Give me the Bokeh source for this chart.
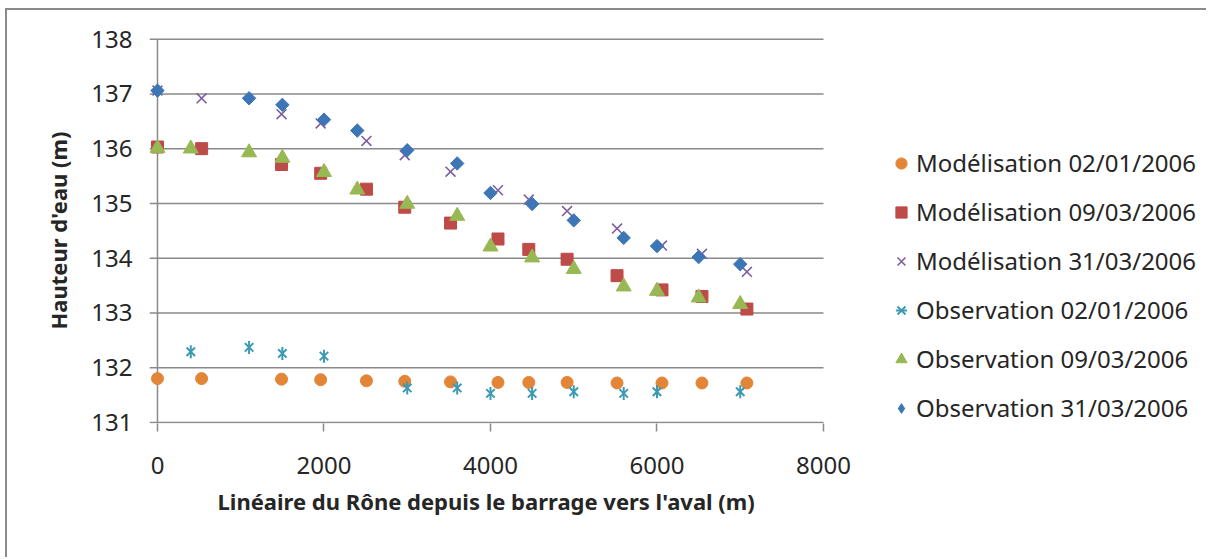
from bokeh.plotting import figure
from bokeh.models import Range1d, FixedTicker, Legend, LegendItem, Title
from bokeh.embed import file_html
from bokeh.resources import INLINE
import math

# ---- data ----
mod_x = [0, 530, 1490, 1960, 2510, 2970, 3520, 4090, 4460, 4920, 5520, 6060, 6540, 7080]
mod_0201 = [131.80, 131.80, 131.79, 131.78, 131.76, 131.75, 131.74, 131.73, 131.73, 131.73, 131.72, 131.72, 131.72, 131.72]
mod_0903 = [136.03, 136.00, 135.71, 135.55, 135.26, 134.93, 134.64, 134.35, 134.16, 133.98, 133.68, 133.42, 133.30, 133.07]
mod_3103 = [137.06, 136.92, 136.63, 136.46, 136.14, 135.88, 135.58, 135.24, 135.07, 134.86, 134.54, 134.23, 134.08, 133.75]

obs_0201_x = [400, 1100, 1500, 2000, 3000, 3600, 4000, 4500, 5000, 5600, 6000, 7000]
obs_0201 = [132.29, 132.37, 132.26, 132.21, 131.63, 131.63, 131.53, 131.53, 131.56, 131.53, 131.56, 131.56]

obs_0903_x = [0, 400, 1100, 1500, 2000, 2400, 3000, 3600, 4000, 4500, 5000, 5600, 6000, 6500, 7000]
obs_0903 = [136.01, 136.00, 135.93, 135.83, 135.57, 135.25, 134.99, 134.77, 134.21, 134.01, 133.80, 133.48, 133.40, 133.28, 133.16]

obs_3103_x = [0, 1100, 1500, 2000, 2400, 3000, 3600, 4000, 4500, 5000, 5600, 6000, 6500, 7000]
obs_3103 = [137.06, 136.92, 136.80, 136.53, 136.33, 135.97, 135.73, 135.19, 134.99, 134.69, 134.37, 134.22, 134.02, 133.89]

labels = ["Modélisation 02/01/2006", "Modélisation 09/03/2006", "Modélisation 31/03/2006",
          "Observation 02/01/2006", "Observation 09/03/2006", "Observation 31/03/2006"]
x_ticks = [0, 2000, 4000, 6000, 8000]
y_ticks = [131, 132, 133, 134, 135, 136, 137, 138]
x_title = "Linéaire du Rône depuis le barrage vers l'aval (m)"
y_title = "Hauteur d'eau (m)"

GRAY = "#8a8a8a"
TXT = "#262626"
FONT = "Noto Sans"

# ---- layout ----
W, H = 1201, 549
LEFT, TOP, BOTTOM = 142, 27, 136
PX_PER_M = 666 / 8000.0               # horizontal scale of the plot area
X0 = -96                               # frame starts 8 px left of x = 0 (tick length)
X1 = X0 + (W - LEFT) / PX_PER_M        # frame runs to the right edge (legend lives there)

p = figure(width=W, height=H, x_range=Range1d(X0, X1), y_range=Range1d(130.98, 138.03),
           output_backend="svg", toolbar_location=None,
           min_border_left=LEFT, min_border_right=0, min_border_top=TOP, min_border_bottom=BOTTOM)
# chart-area border (left and top edges are the only ones inside the window)
p.styles = {"margin-left": "7px", "margin-top": "10px",
            "box-shadow": f"-2px -2px 0px 0px {GRAY}"}
p.outline_line_color = None
p.background_fill_color = "white"
p.border_fill_color = "white"
p.xgrid.visible = False
p.ygrid.visible = False

# axes: labels/ticks from Bokeh axes, axis lines drawn as segments limited to the plot area
p.xaxis.ticker = FixedTicker(ticks=x_ticks)
p.yaxis.ticker = FixedTicker(ticks=y_ticks)
for ax in (p.xaxis[0], p.yaxis[0]):
    ax.axis_line_color = None
    ax.major_tick_line_color = GRAY
    ax.major_tick_line_width = 1.5
    ax.major_tick_in = 0
    ax.major_tick_out = 8
    ax.minor_tick_line_color = None
    ax.major_label_text_font = FONT
    ax.major_label_text_font_size = "24px"
    ax.major_label_text_color = TXT
    ax.axis_label_text_font = FONT
    ax.axis_label_text_font_size = "22px"
    ax.axis_label_text_font_style = "bold"
    ax.axis_label_text_color = TXT
p.yaxis.major_tick_line_color = None
p.yaxis.major_tick_out = 0
p.yaxis.major_label_standoff = 17
p.xaxis.major_label_standoff = 25
p.yaxis.axis_label = y_title
p.yaxis.axis_label_standoff = 15

p.add_layout(Title(text=x_title, align="left", offset=68, standoff=15,
                   text_font=FONT, text_font_size="22px", text_font_style="bold",
                   text_color=TXT), "below")

# horizontal grid lines (they also form the outside y ticks), x axis line and y axis line
p.segment(x0=[X0] * len(y_ticks), x1=[x_ticks[-1]] * len(y_ticks), y0=y_ticks, y1=y_ticks,
          line_color=GRAY, line_width=1.5)
p.segment(x0=[0], x1=[0], y0=[y_ticks[0]], y1=[y_ticks[-1]], line_color=GRAY, line_width=1.5)

# series
r1 = p.scatter(mod_x, mod_0201, marker="circle", size=12, fill_color="#E38537", line_color="#E38537")
r2 = p.scatter(mod_x, mod_0903, marker="square", size=12, fill_color="#BE4B48", line_color="#BE4B48")
r3 = p.scatter(mod_x, mod_3103, marker="x", size=14, line_color="#7D5FA0", line_width=1.6)
r4a = p.scatter(obs_0201_x, obs_0201, marker="x", size=12, line_color="#3B9AB4", line_width=2)
r4b = p.scatter(obs_0201_x, obs_0201, marker="dash", size=13, angle=math.pi / 2, line_color="#3B9AB4", line_width=2)
r5 = p.scatter(obs_0903_x, obs_0903, marker="triangle", size=15, fill_color="#97B853", line_color="#97B853")
r6 = p.scatter(obs_3103_x, obs_3103, marker="square", size=9.5, angle=math.pi / 4, fill_color="#3D76B7", line_color="#3D76B7")
# legend key for the diamonds (same data, zero size in the plot; legend keys have their own size)
r6_key = p.scatter(obs_3103_x, obs_3103, marker="diamond", size=0, fill_color="#3D76B7", line_color=None)

items = [LegendItem(label=labels[0], renderers=[r1]),
         LegendItem(label=labels[1], renderers=[r2]),
         LegendItem(label=labels[2], renderers=[r3]),
         LegendItem(label=labels[3], renderers=[r4a, r4b]),
         LegendItem(label=labels[4], renderers=[r5]),
         LegendItem(label=labels[5], renderers=[r6_key])]
legend = Legend(items=items, location=(738, -1))
legend.border_line_color = None
legend.background_fill_alpha = 0
legend.label_text_font = FONT
legend.label_text_font_size = "24px"
legend.label_text_color = TXT
legend.glyph_width = 28
legend.glyph_height = 28
legend.label_height = 28
legend.label_standoff = 1
legend.spacing = 16
legend.padding = 0
legend.margin = 0
p.add_layout(legend)

open("out.html", "w").write(file_html(p, INLINE))
